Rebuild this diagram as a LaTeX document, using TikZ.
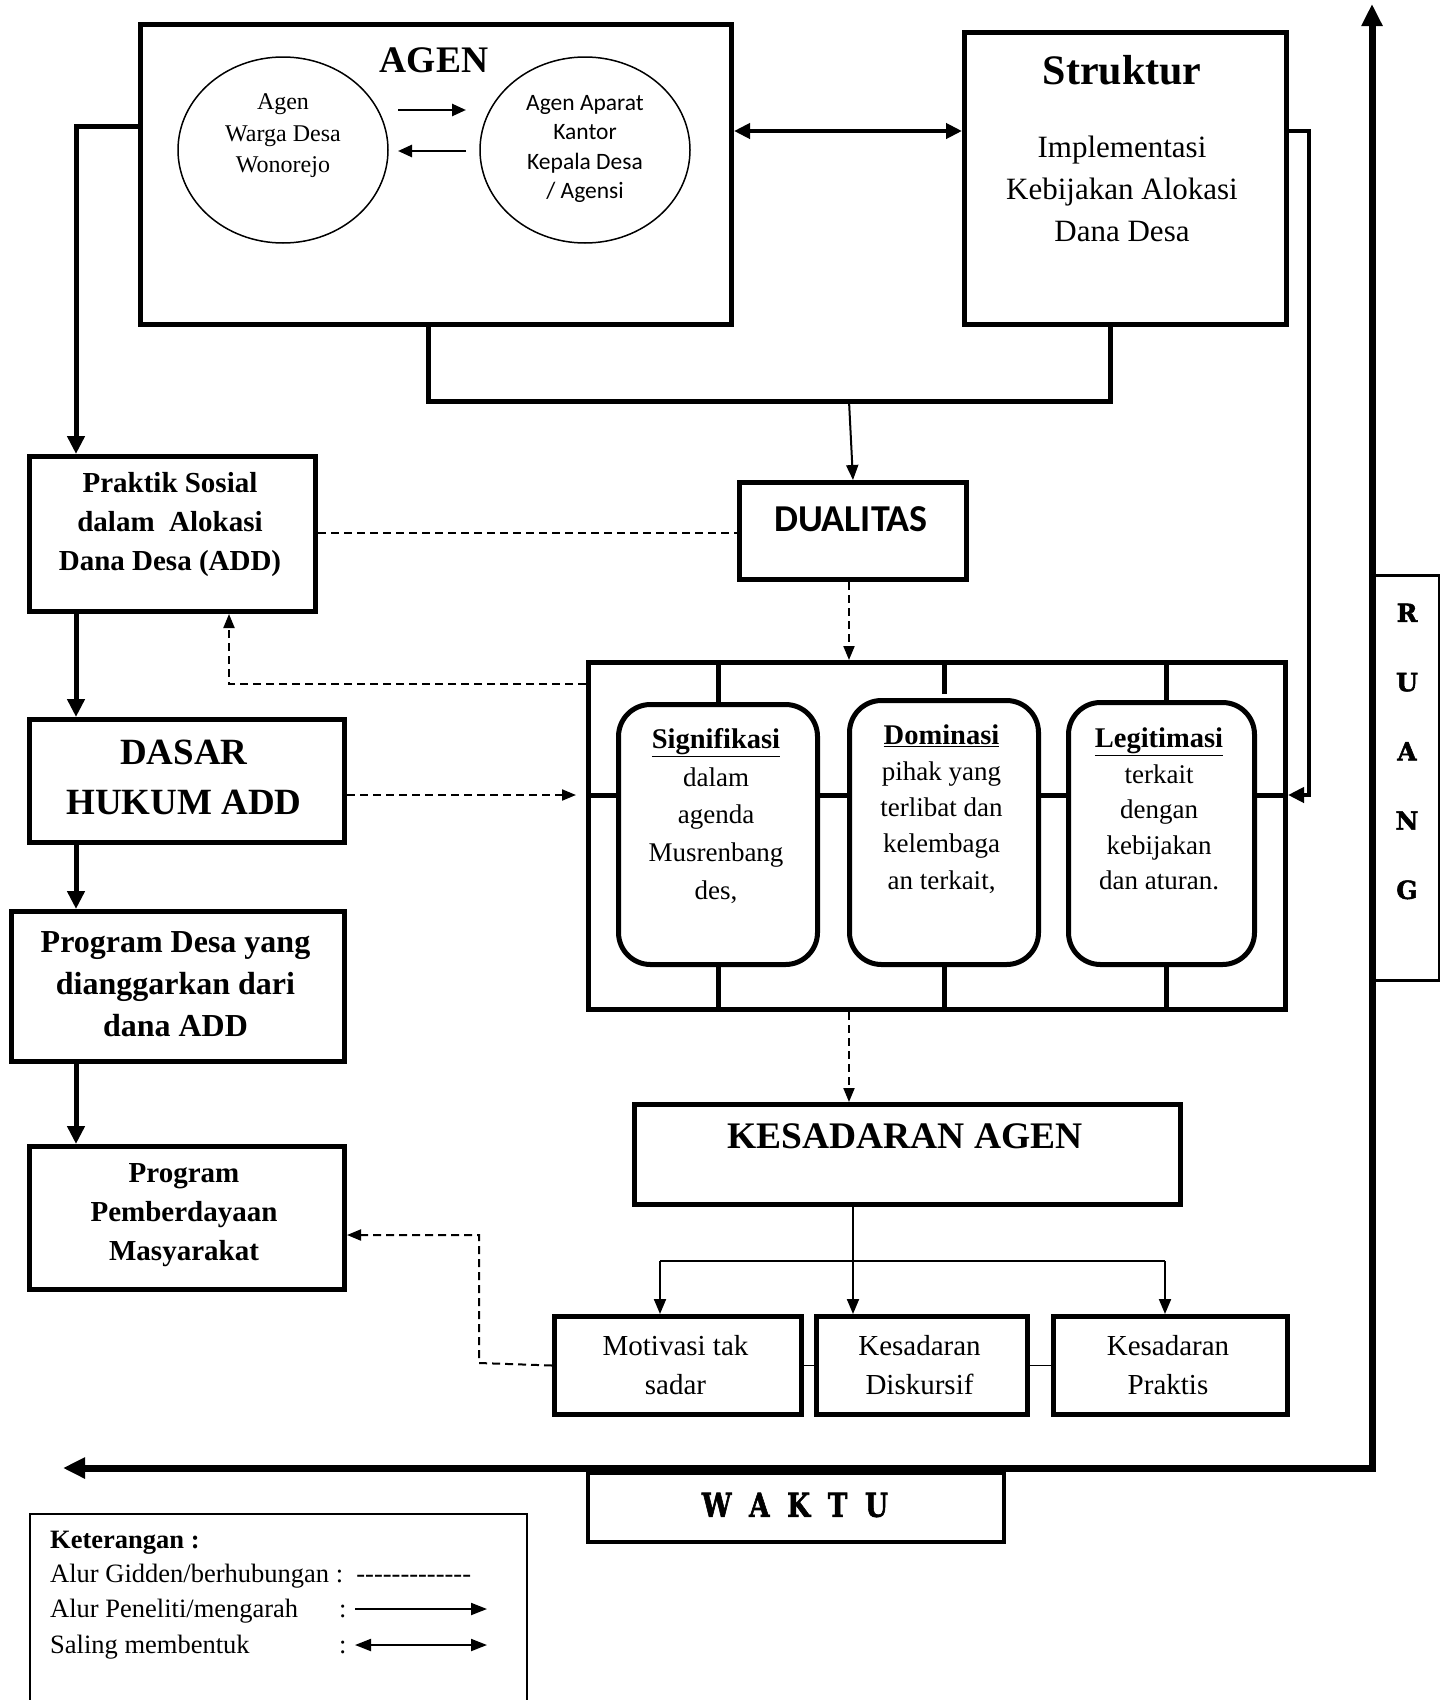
\documentclass[tikz,border=0pt]{standalone}
\usepackage{fontspec}
\usepackage{graphicx}
\setmainfont{Liberation Serif}
\newfontfamily\calfont{Carlito}
\newfontfamily\slabfont{DejaVu Serif}[BoldFeatures={FakeBold=2}]
\usetikzlibrary{arrows.meta,shapes.geometric}
\newcommand\fsz[2]{\fontsize{#1}{#2}\selectfont}
\begin{document}
\begin{tikzpicture}[x=1pt,y=-1pt,
  bx/.style={draw, line width=5pt, inner sep=0pt, anchor=north west},
  rbx/.style={draw, line width=5pt, inner sep=0pt, anchor=north west, rounded corners=32pt},
  txt/.style={inner sep=0pt, align=center},
  lbl/.style={inner sep=0pt, anchor=base west, font=\fsz{26.5}{30}},
  thk/.style={line width=5pt},
  thkarr/.style={line width=5pt, -{Triangle[length=18pt,width=17pt]}},
  medarr/.style={line width=4pt, -{Triangle[length=16pt,width=15pt]}},
  dblarr/.style={line width=4pt, {Triangle[length=16pt,width=15pt]}-{Triangle[length=16pt,width=15pt]}},
  thinarr/.style={line width=2pt, -{Triangle[length=15pt,width=12pt]}},
  dsh/.style={line width=2pt, dash pattern=on 8pt off 5pt},
  dsharr/.style={line width=2pt, dash pattern=on 8pt off 5pt, -{Triangle[length=14pt,width=11pt]}},
  bigarr/.style={line width=7pt, {Triangle[length=22pt,width=20pt]}-{Triangle[length=22pt,width=20pt]}},
  smallarr/.style={line width=2.5pt, -{Triangle[length=14pt,width=12pt]}},
  legarr/.style={line width=2pt, -{Triangle[length=16pt,width=12pt]}},
  legdbl/.style={line width=2pt, {Triangle[length=16pt,width=12pt]}-{Triangle[length=16pt,width=12pt]}}
]
\useasboundingbox (0,0) rectangle (1440,1700);

% ---------- AGEN ----------
\node[bx, minimum width=591pt, minimum height=300pt] (agen) at (138,22) {};
\node[txt, font=\bfseries\fsz{37.5}{40}] (agent) at (434,60) {AGEN};
\node[ellipse, draw, line width=1.5pt, minimum width=210pt, minimum height=186pt] (ew) at (283,150) {};
\node[txt, font=\fsz{24}{31.5}] (ewt) at (283,136) {Agen\\Warga Desa\\Wonorejo};
\node[ellipse, draw, line width=1.5pt, minimum width=210pt, minimum height=186pt] (ea) at (585,150) {};
\node[txt, font=\calfont\fsz{23.5}{29.5}] (eat) at (585,149) {Agen Aparat\\Kantor\\Kepala Desa\\/ Agensi};
\coordinate (ar1) at (398,110);
\coordinate (ar2) at (466,110);
\coordinate (ar3) at (466,151);
\coordinate (ar4) at (398,151);
\draw[smallarr] (ar1) -- (ar2);
\draw[smallarr] (ar3) -- (ar4);

% ---------- Struktur ----------
\node[bx, minimum width=322pt, minimum height=292pt] (str) at (962,30) {};
\node[txt, font=\bfseries\fsz{42}{46}] (strt) at (1122,70) {Struktur};
\node[txt, font=\fsz{31}{42}] (strb) at (1122,189) {Implementasi\\Kebijakan Alokasi\\Dana Desa};
\draw[dblarr] ([yshift=-109pt]agen.north east) -- ([yshift=-101pt]str.north west);

% bracket below AGEN and Struktur
\coordinate (b1) at (428,401);
\coordinate (b2) at (1110,401);
\coordinate (b3) at (849,401);
\draw[thk] (agen.south -| b1) -- (b1) -- (b2) -- (str.south -| b2);

% ---------- DUALITAS ----------
\node[bx, minimum width=227pt, minimum height=97pt] (dual) at (737,480) {};
\node[txt, font=\calfont\bfseries\fsz{38}{40}] (dualt) at (851,519) {DUALITAS};
\draw[thinarr] (b3) -- (dual.north);

% ---------- Frame with three dimensions ----------
\node[bx, minimum width=697pt, minimum height=347pt] (frame) at (586,660) {};
\node[rbx, minimum width=199pt, minimum height=260pt] (sig) at (616,702) {};
\node[rbx, minimum width=189pt, minimum height=264pt] (dom) at (847,698) {};
\node[rbx, minimum width=186pt, minimum height=262pt] (leg) at (1066,700) {};
\coordinate (my) at (0,795);
\draw[thk] (sig.north) -- (sig.north |- frame.north);
\draw[thk] ([yshift=4pt]dom.north) -- (dom.north |- frame.north);
\draw[thk] ([xshift=5pt]leg.north) -- ([xshift=5pt]leg.north |- frame.north);
\draw[thk] (sig.south) -- (sig.south |- frame.south);
\draw[thk] (dom.south) -- (dom.south |- frame.south);
\draw[thk] ([xshift=5pt]leg.south) -- ([xshift=5pt]leg.south |- frame.south);
\draw[thk] (frame.west |- my) -- (sig.west |- my);
\draw[thk] (sig.east |- my) -- (dom.west |- my);
\draw[thk] (dom.east |- my) -- (leg.west |- my);
\draw[thk] (leg.east |- my) -- (frame.east |- my);

\node[txt, font=\fsz{27}{37.7}] (sigt) at (716,816)
  {{\fsz{28.5}{37.7}\bfseries\underline{Signifikasi}}\\dalam\\agenda\\Musrenbang\\des,};
\node[txt, font=\fsz{27}{36.1}] (domt) at (941.5,809)
  {{\fsz{28.5}{36.1}\bfseries\underline{Dominasi}}\\pihak yang\\terlibat dan\\kelembaga\\an terkait,};
\node[txt, font=\fsz{27}{35.6}] (legt) at (1159,809)
  {{\fsz{28.5}{35.6}\bfseries\underline{Legitimasi}}\\terkait\\dengan\\kebijakan\\dan aturan.};

\draw[dsharr] ([xshift=-4pt]dual.south) -- ([xshift=-4pt]dual.south |- frame.north);

% Struktur -> frame right
\coordinate (rc1) at (1309,131);
\coordinate (rc2) at (1309,795);
\draw[medarr] ([yshift=-101pt]str.north east) -- (rc1) -- (rc2) -- (frame.east |- rc2);

% ---------- Left column ----------
\node[bx, minimum width=286pt, minimum height=155pt] (prak) at (27,454) {};
\node[txt, font=\bfseries\fsz{29}{39}] (prakt) at (170,525) {Praktik Sosial\\dalam\ \ Alokasi\\Dana Desa (ADD)};
\node[bx, minimum width=315pt, minimum height=123pt] (dasar) at (27,717) {};
\node[txt, font=\bfseries\fsz{37}{50}] (dasart) at (184,777) {DASAR\\HUKUM ADD};
\node[bx, minimum width=333pt, minimum height=150pt] (prog) at (9,909) {};
\node[txt, font=\bfseries\fsz{32}{42}] (progt) at (175.5,984) {Program Desa yang\\dianggarkan dari\\dana ADD};
\node[bx, minimum width=315pt, minimum height=143pt] (pem) at (27,1144) {};
\node[txt, font=\bfseries\fsz{29}{39}] (pemt) at (184,1215.5) {Program\\Pemberdayaan\\Masyarakat};

\coordinate (l1) at (76,126);
\draw[thkarr] (agen.west |- l1) -- (l1) -- (prak.north -| l1);
\draw[thkarr] (prak.south -| l1) -- (dasar.north -| l1);
\draw[thkarr] (dasar.south -| l1) -- (prog.north -| l1);
\draw[thkarr] (prog.south -| l1) -- (pem.north -| l1);

\coordinate (dualy) at (0,533);
\draw[dsh] (prak.east |- dualy) -- (dual.west |- dualy);
\coordinate (f1) at (229,684);
\draw[dsharr] (frame.west |- f1) -- (f1) -- (prak.south -| f1);
\draw[dsharr, shorten >=10pt] (dasar.east |- my) -- (frame.west |- my);

% ---------- KESADARAN AGEN ----------
\node[bx, minimum width=546pt, minimum height=100pt] (kes) at (632,1102) {};
\node[txt, font=\bfseries\fsz{37.5}{40}] (kest) at (905,1136) {KESADARAN AGEN};
\draw[dsharr] (frame.south -| b3) -- (kes.north -| b3);

\node[bx, minimum width=247pt, minimum height=98pt] (mot) at (552,1314) {};
\node[txt, font=\fsz{29}{39}] (mott) at (675.5,1365) {Motivasi tak\\sadar};
\node[bx, minimum width=211pt, minimum height=98pt] (disk) at (814,1314) {};
\node[txt, font=\fsz{29}{39}] (diskt) at (919.5,1365) {Kesadaran\\Diskursif};
\node[bx, minimum width=234pt, minimum height=98pt] (prk) at (1051,1314) {};
\node[txt, font=\fsz{29}{39}] (prkt) at (1168,1365) {Kesadaran\\Praktis};

\coordinate (k1) at (853,1261);
\coordinate (kL) at (660,1261);
\coordinate (kR) at (1165,1261);
\draw[thinarr] (kes.south -| k1) -- (disk.north -| k1);
\draw[line width=2pt] (kL) -- (kR);
\draw[thinarr] (kL) -- (mot.north -| kL);
\draw[thinarr] (kR) -- (prk.north -| kR);
\draw[line width=1.5pt] (mot.east) -- (disk.west);
\draw[line width=1.5pt] (disk.east) -- (prk.west);

\coordinate (d1) at (479,1363);
\coordinate (d2) at (479,1235);
\draw[dsharr] (mot.west) -- (d1) -- (d2) -- (pem.east |- d2);

% ---------- WAKTU / RUANG ----------
\coordinate (wl) at (63,1468);
\coordinate (wc) at (1372,1468);
\coordinate (wt) at (1372,4);
\node[draw, line width=3pt, inner sep=0pt, anchor=north west, minimum width=66pt, minimum height=405pt] (ruang) at (1372,574) {};
\node[txt, font=\slabfont\bfseries\fsz{25}{69.25}] (ruangt) at (1407,751.5) {R\\U\\A\\N\\G};
\node[draw, line width=4pt, inner sep=0pt, anchor=north west, minimum width=416pt, minimum height=69pt] (waktu) at (586,1471) {};
\node[txt, font=\slabfont\bfseries\fsz{33}{36}] (waktut) at (795,1505)
  {\scalebox{0.8}[1]{W\hspace{22pt}A\hspace{22pt}K\hspace{22pt}T\hspace{22pt}U}};
\draw[bigarr] (wl) -- (wc) -- (wt);

% ---------- Legend ----------
\node[draw, line width=1.5pt, inner sep=0pt, anchor=north west, minimum width=497pt, minimum height=210pt] (keybox) at (29,1513) {};
\node[lbl, font=\bfseries\fsz{26.5}{30}] (k0) at (50,1548) {Keterangan :};
\node[lbl] (k1t) at (50,1582) {Alur Gidden/berhubungan :\ \ -{}-{}-{}-{}-{}-{}-{}-{}-{}-{}-{}-{}-};
\node[lbl] (k2t) at (50,1617) {Alur Peneliti/mengarah};
\node[lbl] (k2c) at (339,1617) {:};
\node[lbl] (k3t) at (50,1653) {Saling membentuk};
\node[lbl] (k3c) at (339,1653) {:};
\coordinate (la1) at (355,1609);
\coordinate (la2) at (487,1609);
\coordinate (lb1) at (355,1645);
\coordinate (lb2) at (487,1645);
\draw[legarr] (la1) -- (la2);
\draw[legdbl] (lb1) -- (lb2);
\end{tikzpicture}
\end{document}
